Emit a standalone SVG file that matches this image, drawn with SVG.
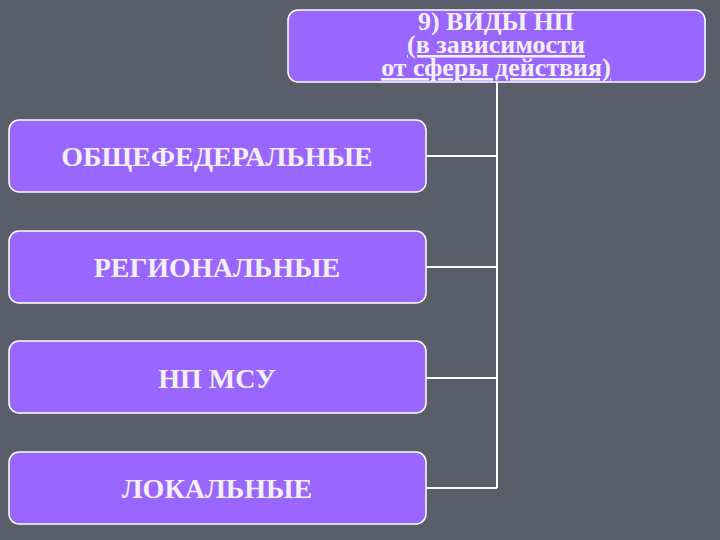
<svg xmlns="http://www.w3.org/2000/svg" width="720" height="540" viewBox="0 0 720 540">
<style>
.box{fill:#9966ff;stroke:#ffffff;stroke-width:1.5}
.t{font-family:"Liberation Serif","Times New Roman",serif;font-weight:bold;fill:#f4f0fa;text-anchor:middle}
.c{stroke:#ffffff;stroke-width:2;fill:none}
</style>
<rect width="720" height="540" fill="#5a5d6a"/>
<g id="connectors">
<path class="c" d="M497 82V488M426 156H497M426 267H497M426 378H497M426 488H497"/>
</g>
<g id="top">
<rect class="box" x="288" y="10" width="417" height="72" rx="10"/>
<text class="t" x="496" y="30" font-size="26">9) ВИДЫ НП</text>
<text class="t" x="496" y="53" font-size="26" text-decoration="underline">(в зависимости</text>
<text class="t" x="496" y="76" font-size="26" text-decoration="underline">от сферы действия)</text>
</g>
<g id="n1">
<rect class="box" x="9" y="120" width="417" height="72" rx="10"/>
<text class="t" x="217" y="166" font-size="28">ОБЩЕФЕДЕРАЛЬНЫЕ</text>
</g>
<g id="n2">
<rect class="box" x="9" y="231" width="417" height="72" rx="10"/>
<text class="t" x="217" y="277" font-size="28">РЕГИОНАЛЬНЫЕ</text>
</g>
<g id="n3">
<rect class="box" x="9" y="341" width="417" height="72" rx="10"/>
<text class="t" x="217" y="388" font-size="28">НП МСУ</text>
</g>
<g id="n4">
<rect class="box" x="9" y="452" width="417" height="72" rx="10"/>
<text class="t" x="217" y="498" font-size="28">ЛОКАЛЬНЫЕ</text>
</g>
</svg>
